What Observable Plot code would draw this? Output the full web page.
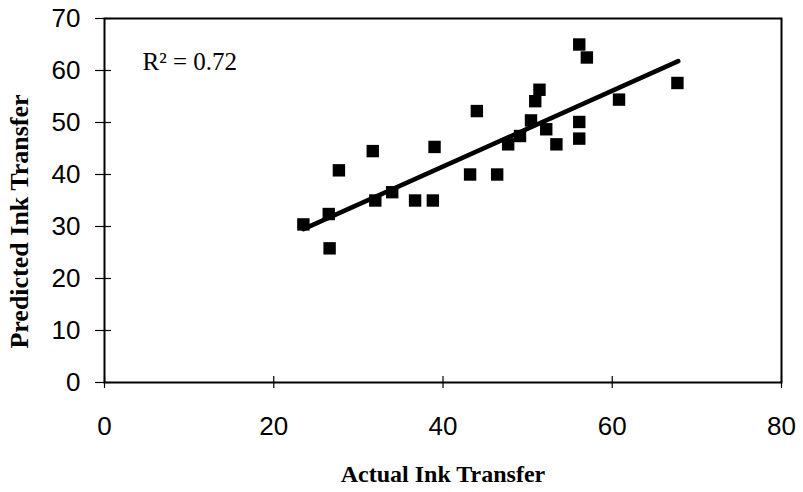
<!DOCTYPE html>
<html>
<head>
<meta charset="utf-8">
<script src="https://cdn.jsdelivr.net/npm/d3@7"></script>
<script src="https://cdn.jsdelivr.net/npm/@observablehq/plot@0.6"></script>
<style>
  html, body { margin: 0; padding: 0; background: #fff; }
</style>
</head>
<body>
<div id="chart"></div>
<script>
const actual = [23.5, 26.5, 26.6, 27.7, 31.7, 32.0, 34.0, 36.7, 38.8, 39.0, 43.2, 44.0, 46.4,
                47.7, 49.1, 50.4, 50.9, 51.4, 52.2, 53.4, 56.1, 56.1, 56.1, 57.0, 60.8, 67.7];
const predicted = [30.4, 32.4, 25.8, 40.8, 44.5, 35.0, 36.6, 35.0, 35.0, 45.3, 40.0, 52.2, 40.0,
                   45.8, 47.4, 50.4, 54.1, 56.3, 48.7, 45.8, 50.1, 46.9, 65.0, 62.5, 54.4, 57.6];
// trend line as drawn in the reference (start and end of the fitted line)
const trendActual = [23.5, 67.8];
const trendPredicted = [29.5, 61.8];
const xTicks = [0, 20, 40, 60, 80];
const yTicks = [0, 10, 20, 30, 40, 50, 60, 70];
const xTitle = "Actual Ink Transfer";
const yTitle = "Predicted Ink Transfer";
const rSquared = "R\u00B2 = 0.72";

const data = actual.map((a, i) => ({actual: a, predicted: predicted[i]}));
const trend = trendActual.map((a, i) => ({actual: a, predicted: trendPredicted[i]}));

const sans = "'Liberation Sans', Arial, sans-serif";
const serif = "'Liberation Serif', 'Times New Roman', serif";

const chart = Plot.plot({
  width: 803,
  height: 492,
  marginLeft: 104,
  marginRight: 22,
  marginTop: 18,
  marginBottom: 110,
  style: {background: "white", color: "black"},
  x: {domain: [0, 80]},
  y: {domain: [0, 70]},
  marks: [
    Plot.frame({stroke: "black", strokeWidth: 2}),
    Plot.axisX({ticks: xTicks, tickSize: 12, dy: -6, tickFormat: () => "", label: null, strokeWidth: 1.2}),
    Plot.axisY({ticks: yTicks, tickSize: 16, dx: 7, tickFormat: () => "", label: null, strokeWidth: 1.2}),
    Plot.axisX({ticks: xTicks, tickSize: 0, tickPadding: 34, fontSize: 26, fontFamily: sans, label: null}),
    Plot.axisY({ticks: yTicks, tickSize: 0, tickPadding: 24, fontSize: 26, fontFamily: sans, label: null}),
    Plot.line(trend, {x: "actual", y: "predicted", stroke: "black", strokeWidth: 4.5, strokeLinecap: "round"}),
    Plot.dot(data, {x: "actual", y: "predicted", symbol: "square", r: 7, fill: "black", stroke: "none"}),
    Plot.text([rSquared], {frameAnchor: "top-left", dx: 38, dy: 43, textAnchor: "start", lineAnchor: "middle",
      fontSize: 25, fontFamily: serif, fill: "black"}),
    Plot.text([xTitle], {frameAnchor: "bottom", dy: 92, lineAnchor: "middle", fontSize: 24,
      fontWeight: "bold", fontFamily: serif, fill: "black"}),
    Plot.text([yTitle], {frameAnchor: "left", dx: -85, dy: 21, rotate: -90, textAnchor: "middle",
      lineAnchor: "middle", fontSize: 26, fontWeight: "bold", fontFamily: serif, fill: "black"})
  ]
});
document.getElementById("chart").appendChild(chart);
</script>
</body>
</html>
